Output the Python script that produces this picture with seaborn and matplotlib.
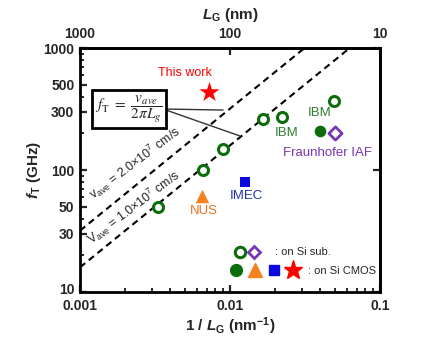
import numpy as np
import pandas as pd
import matplotlib
matplotlib.use("Agg")
import matplotlib.pyplot as plt
import matplotlib.transforms as mtransforms
import seaborn as sns
from matplotlib.lines import Line2D
from matplotlib.legend_handler import HandlerTuple
from matplotlib.ticker import FixedLocator, NullLocator, LogLocator, NullFormatter

# ---------------- data ----------------
sisub_x = [0.0033, 0.0066, 0.0090, 0.0167, 0.0221, 0.0496]   # open green circles (IBM, Si sub.)
sisub_y = [50, 100, 150, 260, 270, 370]
ibm_cmos_x = [0.0398]
ibm_cmos_y = [210]
iaf_x = [0.0500]
iaf_y = [202]
nus_x = [0.00654]
nus_y = [61.5]
imec_x = [0.0125]
imec_y = [79]
this_x = [0.0072]
this_y = [440]

vave_list = [1.0e7, 2.0e7]          # cm/s
x_range = [0.001, 0.1]              # 1/LG (nm^-1)

y_ticks = [10, 30, 50, 100, 300, 500, 1000]
y_ticklabels = ["10", "30", "50", "100", "300", "500", "1000"]
x_ticks = [0.001, 0.01, 0.1]
x_ticklabels = ["0.001", "0.01", "0.1"]
top_ticks = [1000, 100, 10]
top_ticklabels = ["1000", "100", "10"]
right_ticks = [10, 100, 1000]

GREEN = "#0b6e0b"
PURPLE = "#7a35b5"
ORANGE = "#f5821f"
BLUE = "#0a0ae0"
RED = "#ff0000"

sns.set_style("ticks")
plt.rcParams["font.family"] = ["Liberation Sans", "DejaVu Sans"]
plt.rcParams["mathtext.fontset"] = "custom"
plt.rcParams["mathtext.it"] = "Liberation Sans:italic:bold"
plt.rcParams["mathtext.rm"] = "Liberation Sans:bold"
plt.rcParams["mathtext.bf"] = "Liberation Sans:bold"

fig = plt.figure(figsize=(4.43, 3.40), dpi=100)
ax = fig.add_axes([0.1806, 0.1412, 0.6772, 0.7176])
ax.set_xscale("log")
ax.set_yscale("log")

# model lines fT = v / (2 pi LG)
dash = (0, (3.2, 2.2))
for v in vave_list:
    ft = [v * 1e7 * x / (2 * np.pi) / 1e9 for x in x_range]
    sns.lineplot(x=x_range, y=ft, ax=ax, color="black", lw=1.5, linestyle=dash, zorder=2)

# points
sns.scatterplot(x=sisub_x, y=sisub_y, ax=ax, marker="o", s=52, facecolor="white",
                edgecolor=GREEN, linewidth=2.2, zorder=4)
sns.scatterplot(x=ibm_cmos_x, y=ibm_cmos_y, ax=ax, marker="o", s=70, color=GREEN,
                edgecolor=GREEN, linewidth=0, zorder=4)
sns.scatterplot(x=iaf_x, y=iaf_y, ax=ax, marker="D", s=45, facecolor="white",
                edgecolor=PURPLE, linewidth=2.0, zorder=4)
sns.scatterplot(x=nus_x, y=nus_y, ax=ax, marker="^", s=95, color=ORANGE,
                edgecolor=ORANGE, linewidth=0, zorder=4)
sns.scatterplot(x=imec_x, y=imec_y, ax=ax, marker="s", s=60, color=BLUE,
                edgecolor=BLUE, linewidth=0, zorder=4)
sns.scatterplot(x=this_x, y=this_y, ax=ax, marker="*", s=230, color=RED,
                edgecolor=RED, linewidth=0, zorder=4)

ax.set_xlim(0.001, 0.1)
ax.set_ylim(10, 1000)

# ticks
ax.xaxis.set_major_locator(FixedLocator(x_ticks))
ax.set_xticklabels(x_ticklabels)
ax.xaxis.set_minor_locator(LogLocator(base=10, subs=np.arange(2, 10)))
ax.xaxis.set_minor_formatter(NullFormatter())
ax.yaxis.set_major_locator(FixedLocator(y_ticks))
ax.set_yticklabels(y_ticklabels)
ax.yaxis.set_minor_locator(FixedLocator([20, 40, 60, 70, 80, 90, 200, 400, 600, 700, 800, 900]))
ax.yaxis.set_minor_formatter(NullFormatter())
ax.tick_params(which="major", direction="in", length=5, width=1.6, labelsize=10,
               right=False, top=False)
ax.tick_params(which="minor", direction="in", length=3, width=1.4, right=False, top=False)
ax.tick_params(axis="x", which="major", pad=5)
ax.tick_params(axis="y", which="major", pad=4)
for lab in ax.get_xticklabels() + ax.get_yticklabels():
    lab.set_fontweight("bold")
# lift the bottom "10" label slightly, as in the reference
ylabs = ax.get_yticklabels()
ylabs[0].set_transform(ylabs[0].get_transform() +
                       mtransforms.ScaledTranslation(0, 2.5 / 72, fig.dpi_scale_trans))
for sp in ax.spines.values():
    sp.set_linewidth(2.0)
    sp.set_color("black")

def inv(x):
    x = np.asarray(x, dtype=float)
    with np.errstate(divide="ignore", invalid="ignore"):
        return 1.0 / x

secax = ax.secondary_xaxis("top", functions=(inv, inv))
secax.set_xticks(top_ticks)
secax.set_xticklabels(top_ticklabels, fontweight="bold", fontsize=10)
secax.xaxis.set_minor_locator(NullLocator())
secax.tick_params(direction="in", length=5, width=1.6, pad=5)
secax.spines["top"].set_linewidth(2.0)
secax.set_xlabel(r"$L_{\mathrm{G}}$ (nm)", fontsize=11, fontweight="bold", labelpad=6)

secy = ax.secondary_yaxis("right")
secy.set_yticks(right_ticks)
secy.set_yticklabels([])
secy.yaxis.set_minor_locator(NullLocator())
secy.tick_params(direction="in", length=5, width=1.6)
secy.spines["right"].set_linewidth(2.0)

ax.set_xlabel(r"1 / $L_{\mathrm{G}}$ (nm$^{\mathrm{-1}}$)", fontsize=11, fontweight="bold", labelpad=2)
ax.set_ylabel(r"$f_{\mathrm{T}}$ (GHz)", fontsize=11, fontweight="bold", labelpad=0)

# text annotations
ax.text(0.00501, 624, "This work", color=RED, fontsize=9, ha="center", va="center")
ax.text(0.0239, 202, "IBM", color="#2e7d2e", fontsize=9.5, ha="center", va="center")
ax.text(0.0398, 293, "IBM", color="#2e7d2e", fontsize=9.5, ha="center", va="center")
ax.text(0.045, 138, "Fraunhofer IAF", color=PURPLE, fontsize=9.5, ha="center", va="center")
ax.text(0.0129, 60.7, "IMEC", color="#2233aa", fontsize=9.5, ha="center", va="center")
ax.text(0.00671, 46.1, "NUS", color="#e0731f", fontsize=9.5, ha="center", va="center")

ax.text(0.00233, 114, r"$\mathregular{v_{ave}}$ = 2.0×10$^{\mathregular{7}}$ cm/s",
        fontsize=9, rotation=37, ha="center", va="center", rotation_mode="anchor")
ax.text(0.00229, 49.7, r"$\mathregular{V_{ave}}$ = 1.0×10$^{\mathregular{7}}$ cm/s",
        fontsize=9, rotation=37, ha="center", va="center", rotation_mode="anchor")

ax.text(0.00212, 316, r"$f_{\mathrm{T}}\ =\ \dfrac{v_{ave}}{2\pi L_g}$", math_fontfamily="stix",
        fontsize=11, ha="center", va="center", zorder=6,
        bbox=dict(boxstyle="square,pad=0.18", fc="white", ec="black", lw=2.0))
ax.annotate("", xy=(0.00898, 310), xytext=(0.00369, 316),
            arrowprops=dict(arrowstyle="-", lw=1.0, color="#333333", shrinkA=0, shrinkB=0))
ax.annotate("", xy=(0.01166, 190), xytext=(0.00369, 312),
            arrowprops=dict(arrowstyle="-", lw=1.0, color="#333333", shrinkA=0, shrinkB=0))

# legend of symbol meaning
open_c = Line2D([], [], marker="o", ls="none", mfc="white", mec=GREEN, mew=2.2, ms=7.5)
diam = Line2D([], [], marker="D", ls="none", mfc="white", mec=PURPLE, mew=2.0, ms=6.3)
fill_c = Line2D([], [], marker="o", ls="none", mfc=GREEN, mec=GREEN, ms=8.5)
tri = Line2D([], [], marker="^", ls="none", mfc=ORANGE, mec=ORANGE, ms=9.5)
sq = Line2D([], [], marker="s", ls="none", mfc=BLUE, mec=BLUE, ms=7.8)
star = Line2D([], [], marker="*", ls="none", mfc=RED, mec=RED, ms=14)

leg1 = ax.legend([(open_c, diam)], [": on Si sub."],
                 handler_map={tuple: HandlerTuple(ndivide=None, pad=0)},
                 loc="center left", bbox_to_anchor=(0.51, 0.162), frameon=False,
                 fontsize=8, handlelength=2.5, handletextpad=1.25, borderpad=0,
                 borderaxespad=0)
ax.add_artist(leg1)
leg2 = ax.legend([(fill_c, tri, sq, star)], [": on Si CMOS"],
                 handler_map={tuple: HandlerTuple(ndivide=None, pad=0)},
                 loc="center left", bbox_to_anchor=(0.488, 0.086), frameon=False,
                 fontsize=8, handlelength=6.85, handletextpad=0.45, borderpad=0,
                 borderaxespad=0)

fig.savefig("out.png", dpi=100)
